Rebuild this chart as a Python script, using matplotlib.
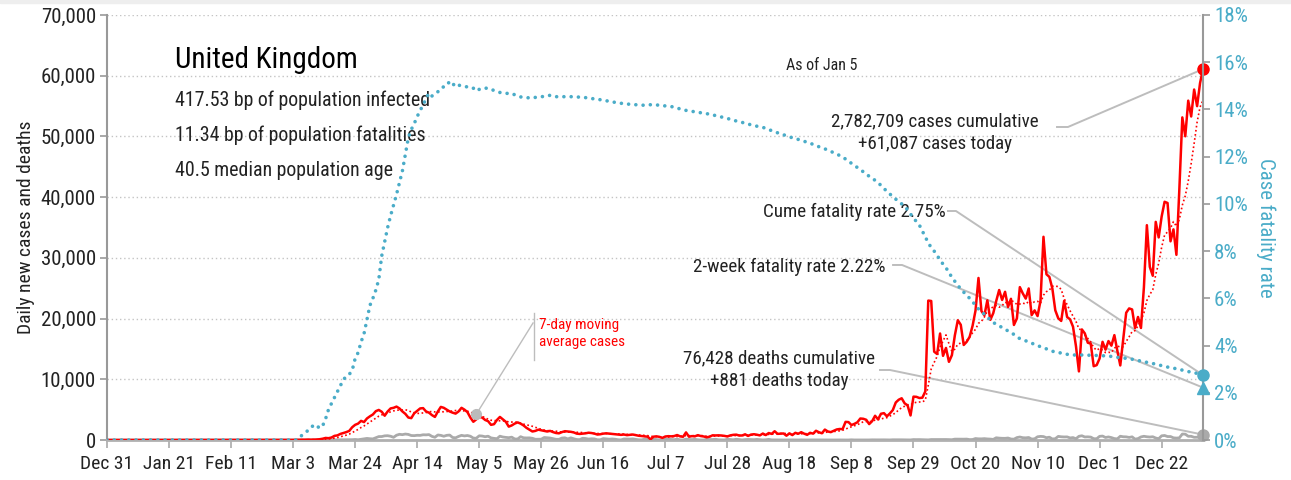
import numpy as np
import pandas as pd
import matplotlib
matplotlib.use("Agg")
import matplotlib.pyplot as plt
from matplotlib.patches import Rectangle

plt.rcParams["font.family"] = ["Roboto Condensed", "Fira Sans Condensed", "DejaVu Sans"]

# daily new cases, Dec 31 2019 .. Jan 5 2021 (one value per day)
cases = [
    0,
    # Jan
    0, 0, 0, 0, 0, 0, 0, 0, 0, 0, 0, 0, 0, 0, 0, 0, 0, 0, 0, 0, 0, 0, 0, 0, 0, 0, 0, 0, 0, 0, 2,
    # Feb
    0, 0, 0, 0, 0, 1, 0, 0, 1, 4, 0, 1, 0, 0, 0, 0, 0, 0, 0, 0, 0, 0, 0, 4, 0, 0, 2, 5, 3,
    # Mar
    13, 4, 11, 34, 30, 48, 43, 67, 48, 61, 80, 130, 210, 340, 300, 410, 680, 760, 1000, 1150,
    1300, 1500, 2100, 2500, 2700, 3150, 2950, 3550, 3900, 4200, 4750,
    # Apr
    4950, 4650, 4000, 4700, 5200, 5300, 5500, 5200, 4700, 4300, 3700, 3600, 4400, 4800, 5200,
    5250, 4700, 4500, 4100, 3800, 4700, 5450, 5300, 5000, 4700, 4500, 4350, 4700, 5300, 5000,
    # May
    4600, 3700, 3000, 3400, 3800, 3700, 3300, 3100, 2500, 2600, 3300, 3800, 3400, 3000, 2200,
    2400, 2700, 2900, 2700, 2400, 2000, 1700, 1400, 1500, 1700, 1600, 1500, 1400, 1500, 1300, 1150,
    # Jun
    1100, 1300, 1450, 1400, 1350, 1250, 1050, 1000, 1050, 1100, 1200, 1150, 1050, 900, 950,
    1050, 1100, 1050, 1000, 950, 900, 850, 900, 800, 850, 900, 800, 700, 650, 600,
    # Jul
    550, 120, 550, 600, 520, 350, 580, 630, 600, 650, 820, 600, 530, 1250, 540, 640,
    600, 800, 650, 580, 450, 550, 770, 750, 770, 740, 680, 580, 760, 850, 880,
    # Aug
    743, 744, 938, 670, 892, 950, 871, 758, 1062, 816, 1148, 1009, 1441, 1012, 1040, 1077,
    713, 1089, 812, 1182, 1033, 1288, 1041, 853, 1184, 1048, 1522, 1276, 1108, 1715, 1406,
    # Sep
    1295, 1508, 1735, 1813, 1788, 2988, 2948, 2460, 2659, 2919, 3539, 3497, 3330, 2621, 3105,
    3991, 3395, 4322, 4422, 3899, 4368, 4926, 6178, 6634, 6874, 6042, 5693, 4044, 7143, 7108,
    # Oct
    6914, 6968, 8000, 22961, 22900, 14542, 14162, 17540, 13864, 15166, 12872, 13972, 17234,
    19724, 18980, 15650, 16171, 16982, 18804, 21331, 26688, 21242, 20530, 23012, 19790, 20890,
    22885, 24701, 23065, 24405, 21915,
    # Nov
    23254, 18950, 20018, 25177, 24141, 23287, 24957, 20572, 21350, 20412, 22950, 33470, 27301,
    26860, 24962, 21363, 20051, 19609, 22915, 20252, 19875, 18662, 15450, 11299, 18213, 17555,
    16022, 15871, 12155, 12330,
    # Dec
    13430, 16170, 14879, 16298, 15539, 17272, 14718, 12282, 16578, 20964, 21672, 21502, 18447,
    20263, 18450, 25161, 35383, 28507, 27052, 35928, 33364, 36804, 39237, 39036, 32725, 34693,
    30501, 41385, 53135, 50023, 55892,
    # Jan 2021
    53285, 57725, 54990, 58784, 61087,
]

# daily new deaths, same days
deaths = [
    0,
    # Jan
    0, 0, 0, 0, 0, 0, 0, 0, 0, 0, 0, 0, 0, 0, 0, 0, 0, 0, 0, 0, 0, 0, 0, 0, 0, 0, 0, 0, 0, 0, 0,
    # Feb
    0, 0, 0, 0, 0, 0, 0, 0, 0, 0, 0, 0, 0, 0, 0, 0, 0, 0, 0, 0, 0, 0, 0, 0, 0, 0, 0, 0, 0,
    # Mar
    0, 0, 0, 0, 1, 1, 0, 1, 1, 1, 2, 1, 2, 10, 14, 20, 16, 32, 41, 33, 56, 48, 54, 87, 43,
    115, 181, 260, 209, 180, 381,
    # Apr
    563, 569, 684, 708, 621, 439, 786, 938, 881, 980, 917, 737, 717, 778, 761, 861, 847, 888,
    596, 449, 828, 763, 616, 768, 813, 413, 360, 586, 765, 674,
    # May
    739, 621, 315, 288, 693, 649, 539, 626, 346, 268, 210, 627, 494, 428, 384, 468, 170, 160,
    545, 363, 338, 351, 282, 118, 121, 134, 412, 377, 324, 215, 113,
    # Jun
    111, 324, 359, 176, 357, 204, 77, 55, 286, 245, 151, 202, 181, 36, 38, 233, 184, 135, 173,
    128, 43, 15, 171, 154, 149, 186, 100, 36, 25, 155,
    # Jul
    176, 89, 137, 67, 22, 16, 155, 126, 85, 48, 148, 21, 11, 138, 85, 66, 114, 40, 11, 11,
    110, 79, 79, 123, 38, 14, 7, 119, 83, 38, 120,
    # Aug
    74, 8, 67, 89, 65, 49, 98, 55, 8, 38, 102, 18, 6, 11, 3, 7, 4, 12, 16, 6, 2, 18, 5, 3,
    16, 16, 12, 9, 12, 2, 1,
    # Sep
    3, 3, 10, 12, 2, 2, 3, 32, 8, 14, 6, 9, 5, 9, 27, 20, 21, 27, 27, 18, 11, 37, 37, 40, 34,
    17, 17, 13, 71, 59,
    # Oct
    66, 49, 33, 19, 76, 71, 77, 77, 87, 81, 65, 50, 143, 137, 138, 136, 150, 67, 80, 241, 191,
    189, 224, 174, 151, 102, 367, 310, 280, 274, 326,
    # Nov
    162, 136, 397, 492, 378, 355, 413, 156, 194, 532, 595, 563, 376, 462, 168, 213, 598, 529,
    501, 511, 341, 398, 206, 608, 696, 498, 521, 479, 215, 205,
    # Dec
    603, 648, 414, 504, 397, 231, 189, 616, 533, 516, 424, 519, 144, 232, 506, 612, 532, 489,
    534, 326, 215, 691, 744, 570, 570, 357, 316, 357, 981, 964, 613,
    # Jan 2021
    613, 445, 454, 407, 881,
]

# cumulative case fatality rate (%), same days
cfr = [
    0,
    # Jan
    0, 0, 0, 0, 0, 0, 0, 0, 0, 0, 0, 0, 0, 0, 0, 0, 0, 0, 0, 0, 0, 0, 0, 0, 0, 0, 0, 0, 0, 0, 0,
    # Feb
    0, 0, 0, 0, 0, 0, 0, 0, 0, 0, 0, 0, 0, 0, 0, 0, 0, 0, 0, 0, 0, 0, 0, 0, 0, 0, 0, 0, 0,
    # Mar
    0, 0, 0, 0, 0.1, 0.2, 0.3, 0.4, 0.5, 0.65, 0.6, 0.5, 0.6, 0.9, 1.3, 1.55, 1.8, 2.05, 2.3,
    2.55, 2.7, 2.78, 2.95, 3.45, 3.7, 4.15, 4.5, 5.1, 5.7, 6.0, 6.35,
    # Apr
    6.8, 7.8, 8.4, 9.0, 9.5, 9.95, 10.4, 10.9, 11.4, 12.1, 12.8, 13.15, 13.4, 13.7, 13.95,
    14.2, 14.45, 14.7, 14.57, 14.65, 14.75, 14.9, 14.96, 15.0, 15.2, 15.1, 14.96, 15.03, 15.0, 14.96,
    # May
    14.96, 14.96, 14.9, 14.78, 14.85, 14.9, 14.9, 14.9, 14.86, 14.8, 14.76, 14.72, 14.7, 14.68,
    14.68, 14.68, 14.62, 14.56, 14.53, 14.52, 14.5, 14.49, 14.48, 14.51, 14.54, 14.54, 14.55,
    14.57, 14.6, 14.57, 14.54,
    # Jun
    14.54, 14.54, 14.54, 14.54, 14.54, 14.54, 14.53, 14.52, 14.51, 14.5, 14.47, 14.46, 14.45,
    14.44, 14.41, 14.4, 14.37, 14.34, 14.32, 14.3, 14.28, 14.26, 14.25, 14.23, 14.22, 14.21,
    14.2, 14.19, 14.18, 14.18,
    # Jul
    14.19, 14.2, 14.2, 14.19, 14.18, 14.16, 14.15, 14.14, 14.12, 14.1, 14.06, 14.02, 13.98,
    13.96, 13.94, 13.92, 13.9, 13.88, 13.86, 13.84, 13.82, 13.8, 13.77, 13.74, 13.71, 13.68,
    13.65, 13.62, 13.58, 13.55, 13.51,
    # Aug
    13.48, 13.45, 13.42, 13.38, 13.35, 13.32, 13.29, 13.26, 13.24, 13.2, 13.15, 13.1, 13.06,
    13.01, 12.97, 12.93, 12.88, 12.84, 12.8, 12.76, 12.73, 12.69, 12.65, 12.61, 12.57, 12.52,
    12.47, 12.42, 12.37, 12.33, 12.28,
    # Sep
    12.22, 12.17, 12.11, 12.05, 11.98, 11.9, 11.8, 11.72, 11.63, 11.54, 11.45, 11.36, 11.26,
    11.17, 11.08, 11.0, 10.9, 10.78, 10.66, 10.52, 10.42, 10.3, 10.2, 10.1, 10.0, 9.9, 9.75,
    9.57, 9.4, 9.25,
    # Oct
    9.1, 8.85, 8.6, 8.35, 8.15, 8.0, 7.82, 7.62, 7.45, 7.3, 7.08, 6.9, 6.72, 6.55, 6.4, 6.26,
    6.14, 6.0, 5.86, 5.7, 5.55, 5.45, 5.32, 5.21, 5.08, 4.98, 4.9, 4.84, 4.76, 4.69, 4.62,
    # Nov
    4.55, 4.47, 4.38, 4.29, 4.24, 4.2, 4.16, 4.1, 4.05, 4.0, 3.95, 3.9, 3.86, 3.81, 3.76, 3.73,
    3.71, 3.68, 3.65, 3.63, 3.61, 3.6, 3.6, 3.6, 3.6, 3.59, 3.59, 3.59, 3.59, 3.58,
    # Dec
    3.58, 3.57, 3.56, 3.55, 3.54, 3.52, 3.5, 3.49, 3.47, 3.46, 3.44, 3.42, 3.4, 3.37, 3.34,
    3.31, 3.29, 3.27, 3.24, 3.21, 3.18, 3.15, 3.12, 3.09, 3.06, 3.04, 3.02, 2.99, 2.96, 2.93, 2.9,
    # Jan 2021
    2.87, 2.85, 2.82, 2.79, 2.75,
]

tick_labels = ["Dec 31", "Jan 21", "Feb 11", "Mar 3", "Mar 24", "Apr 14", "May 5", "May 26",
               "Jun 16", "Jul 7", "Jul 28", "Aug 18", "Sep 8", "Sep 29", "Oct 20", "Nov 10",
               "Dec 1", "Dec 22"]

country = "United Kingdom"
as_of = "Jan 5"
total_cases = 2782709
total_deaths = 76428
two_week_cfr = 2.22
bp_infected = 417.53
bp_deaths = 11.34
median_age = 40.5

RED = "#ff0000"
TEAL = "#4aacc8"
GRAY = "#aaaaaa"
LEAD = "#bdbdbd"
INK = "#222222"

days = np.arange(len(cases))
ma7 = pd.Series(cases, dtype=float).rolling(7).mean()
last = days[-1]

fig = plt.figure(figsize=(12.91, 4.80), dpi=100)
fig.patches.append(Rectangle((0, 1 - 3 / 480), 1, 3 / 480, transform=fig.transFigure,
                             color="#eeeeee", zorder=0))
ax = fig.add_axes([107 / 1291, 40 / 480, 1096 / 1291, 425 / 480])
ax2 = ax.twinx()

ax.set_xlim(0, last)
ax.set_ylim(0, 70000)
ax2.set_ylim(0, 18)

# gridlines
ax.set_axisbelow(True)
ax.yaxis.grid(True, linestyle=(0, (1, 2)), color="#c4c4c4", linewidth=1)

# deaths, cases and the 7-day average
ax.plot(days, deaths, color=GRAY, lw=2, solid_joinstyle="round", zorder=3)
ax.plot(days, ma7, color=RED, lw=1.2, linestyle=(0, (1, 1.5)), zorder=3)
ax.plot(days, cases, color=RED, lw=1.8, solid_joinstyle="round", zorder=4)

# case fatality rate on the right axis
ax2.plot(days, cfr, color=TEAL, lw=2.6, linestyle=(0, (0.01, 2.0)),
         dash_capstyle="round", zorder=3)

# end-of-series markers
ax.plot(last, cases[-1], "o", color=RED, ms=8, zorder=6, clip_on=False)
ax.plot(last, deaths[-1], "o", color=GRAY, ms=8, zorder=6, clip_on=False)
ax2.plot(last, cfr[-1], "o", color=TEAL, ms=8, zorder=6, clip_on=False)
ax2.plot(last, two_week_cfr, "^", color=TEAL, ms=8, zorder=6, clip_on=False)

# ticks and spines
ax.set_xticks(np.arange(0, last, 21))
ax.set_xticklabels(tick_labels)
ax.set_yticks(np.arange(0, 70001, 10000))
ax.yaxis.set_major_formatter(plt.FuncFormatter(lambda v, p: f"{v:,.0f}"))
ax2.set_yticks(np.arange(0, 19, 2))
ax2.yaxis.set_major_formatter(plt.FuncFormatter(lambda v, p: f"{v:.0f}%"))

ax.tick_params(axis="x", length=6, width=1.2, color="#aaaaaa", labelsize=14,
               labelcolor=INK, pad=5)
ax.tick_params(axis="y", length=5, width=1.2, color="#999999", labelsize=15,
               labelcolor=INK, pad=3)
ax2.tick_params(axis="y", length=5, width=1.2, color="#999999", labelsize=15,
                labelcolor=TEAL, pad=3)

for a in (ax, ax2):
    a.spines["top"].set_visible(False)
ax.spines["right"].set_visible(False)
ax2.spines["left"].set_visible(False)
ax2.spines["bottom"].set_visible(False)
ax.spines["left"].set_color("#999999")
ax.spines["left"].set_linewidth(1.5)
ax.spines["bottom"].set_color("#b0b0b0")
ax.spines["bottom"].set_linewidth(2)
ax2.spines["right"].set_color("#999999")
ax2.spines["right"].set_linewidth(1.5)

ax.set_ylabel("Daily new cases and deaths", fontsize=14, color=INK, labelpad=4)
ax2.set_ylabel("Case fatality rate", fontsize=15, color=TEAL, rotation=270, labelpad=20)

# header block
T = ax.transAxes
ax.text(0.062, 0.894, country, transform=T, fontsize=21, color="black", va="center")
ax.text(0.062, 0.800, f"{bp_infected:.2f} bp of population infected", transform=T,
        fontsize=14.3, color=INK, va="center")
ax.text(0.062, 0.716, f"{bp_deaths:.2f} bp of population fatalities", transform=T,
        fontsize=14.3, color=INK, va="center")
ax.text(0.062, 0.635, f"{median_age:.1f} median population age", transform=T,
        fontsize=14.3, color=INK, va="center")
ax.text(0.652, 0.881, f"As of {as_of}", transform=T, fontsize=11.5, color=INK,
        ha="center", va="center")

# callouts
ax.text(0.7555, 0.723, f"{total_cases:,} cases cumulative\n+{cases[-1]:,} cases today",
        transform=T, fontsize=13.7, color=INK, ha="center", va="center", linespacing=1.3)
ax.text(0.7655, 0.5365, f"Cume fatality rate {cfr[-1]:.2f}%", transform=T,
        fontsize=13.7, color=INK, ha="right", va="center")
ax.text(0.7099, 0.407, f"2-week fatality rate {two_week_cfr:.2f}%", transform=T,
        fontsize=13.7, color=INK, ha="right", va="center")
ax.text(0.6135, 0.166, f"{total_deaths:,} deaths cumulative\n+{deaths[-1]:,} deaths today",
        transform=T, fontsize=13.7, color=INK, ha="center", va="center", linespacing=1.3)
ax.text(0.3945, 0.251, "7-day moving\naverage cases", transform=T, fontsize=11,
        color=RED, ha="left", va="center", linespacing=1.3)


def to_axes(a, x, y):
    return T.inverted().transform(a.transData.transform((x, y)))


def leader(a, x, y, start, corner):
    tx, ty = to_axes(a, x, y)
    ax.plot([start[0], corner[0], tx], [start[1], corner[1], ty], color=LEAD, lw=1.4,
            transform=T, clip_on=False, zorder=2)


leader(ax, last, cases[-1], (0.8668, 0.7365), (0.8768, 0.7365))
leader(ax2, last, cfr[-1], (0.7673, 0.5388), (0.7746, 0.5388))
leader(ax2, last, two_week_cfr, (0.7172, 0.4118), (0.7254, 0.4118))
leader(ax, last, deaths[-1], (0.7053, 0.1647), (0.7144, 0.1647))

# pointer to the 7-day average
mark_day = 125
ax.plot(mark_day, ma7[mark_day], "o", color="#bbbbbb", ms=7, zorder=5)
mx, my = to_axes(ax, mark_day, ma7[mark_day])
ax.plot([mx, 0.3887], [my, 0.2753], color=LEAD, lw=1, transform=T, zorder=2)
ax.plot([0.3896, 0.3896], [0.1882, 0.2988], color=LEAD, lw=1, transform=T, zorder=2)

fig.savefig("out.png", dpi=100)
